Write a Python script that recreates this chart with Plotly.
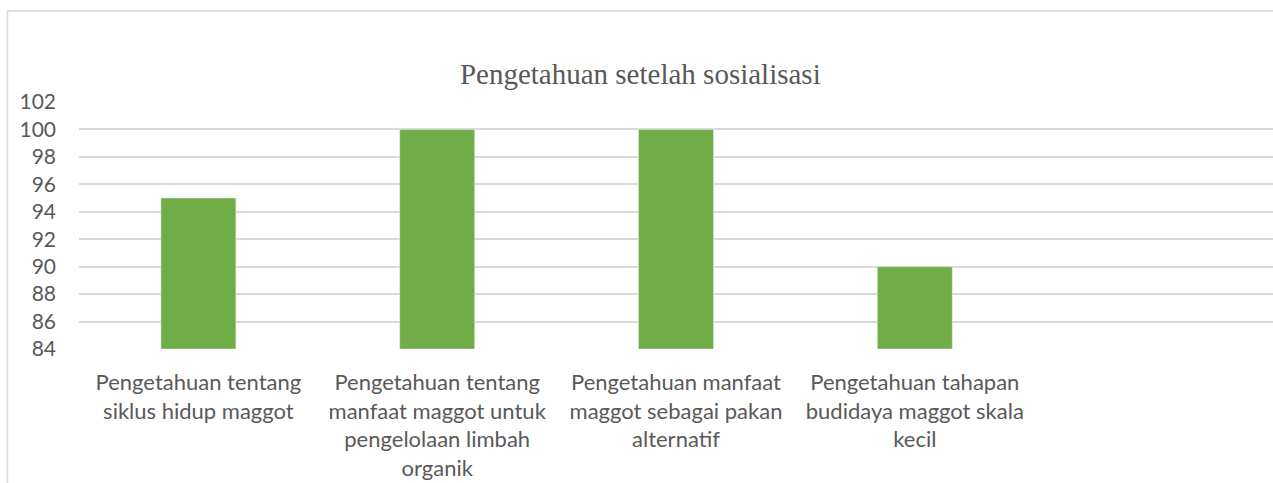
import plotly.graph_objects as go

categories = [
    "Pengetahuan tentang<br>siklus hidup maggot",
    "Pengetahuan tentang<br>manfaat maggot untuk<br>pengelolaan limbah<br>organik",
    "Pengetahuan manfaat<br>maggot sebagai pakan<br>alternatif",
    "Pengetahuan tahapan<br>budidaya maggot skala<br>kecil",
]
values = [95, 100, 100, 90]
y_ticks = [84, 86, 88, 90, 92, 94, 96, 98, 100, 102]
title_text = "Pengetahuan setelah sosialisasi"
y_base = 84

W, H = 1273, 483
L, R, T, B = 79, 0, 102, 134
pw, ph = W - L - R, H - T - B

def px_to_paper_x(px):
    return (px - L) / pw

def px_to_paper_y(py):
    return (H - B - py) / ph

fig = go.Figure()
fig.add_trace(go.Bar(
    x=categories, y=[v - y_base for v in values], base=y_base,
    marker_color="#70AD47", width=0.314, hoverinfo="skip",
))

fig.update_layout(
    width=W, height=H,
    margin=dict(l=L, r=R, t=T, b=B),
    paper_bgcolor="white", plot_bgcolor="white",
    showlegend=False,
    title=dict(text=title_text, x=0.503, xref="container", xanchor="center",
               y=(H - 74) / H, yref="container", yanchor="middle",
               font=dict(family="Liberation Serif", size=29, color="#595959")),
    xaxis=dict(type="category", range=[-0.5, 4.5], showgrid=False,
               showline=False, ticks="", ticklabelstandoff=18,
               tickfont=dict(family="Lato", size=22, color="#595959")),
    yaxis=dict(range=[84, 102], tickvals=y_ticks, ticktext=[str(v) for v in y_ticks],
               showgrid=True, gridcolor="#d9d9d9", gridwidth=2,
               zeroline=False, showline=False, ticks="", ticklabelstandoff=22,
               tickfont=dict(family="Lato", size=21, color="#595959")),
    shapes=[dict(type="rect", xref="paper", yref="paper",
                 x0=px_to_paper_x(7.5), x1=px_to_paper_x(1300),
                 y0=px_to_paper_y(520), y1=px_to_paper_y(11),
                 line=dict(color="#d9d9d9", width=1.5), fillcolor="rgba(0,0,0,0)",
                 layer="below")],
)
fig.write_html("out.html", config={"displayModeBar": False},
               post_script="document.body.style.margin='0';document.body.style.overflow='hidden';")
